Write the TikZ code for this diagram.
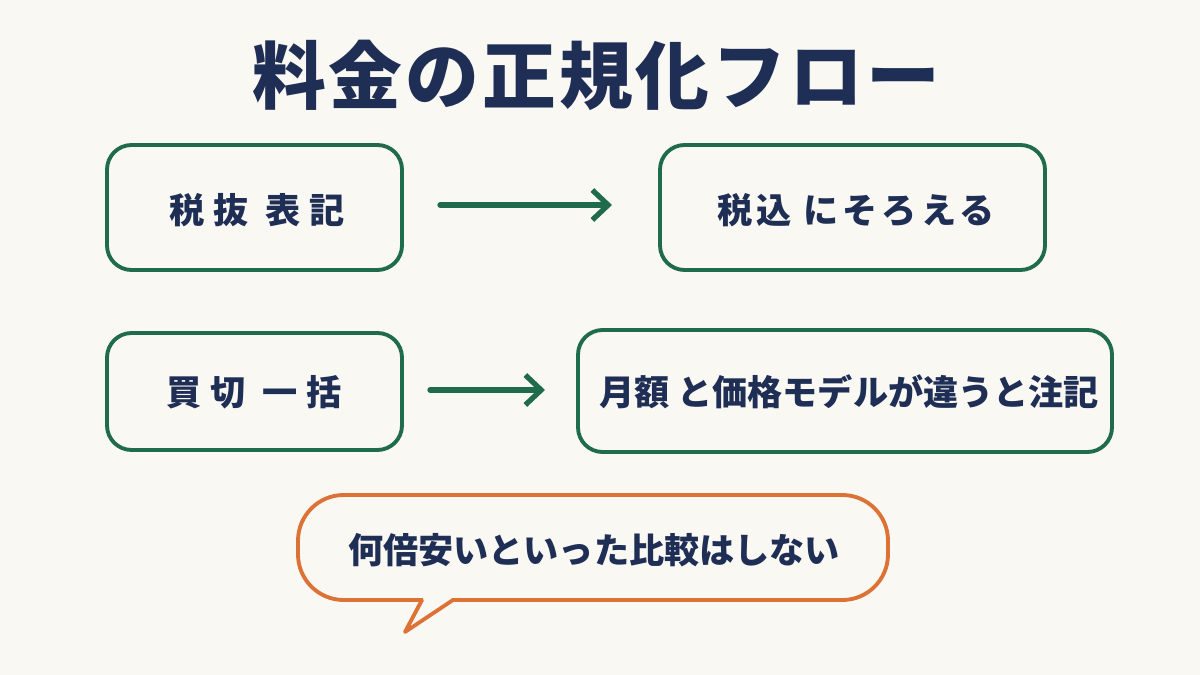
\documentclass[tikz,border=0pt]{standalone}
\usepackage{fontspec}
\usetikzlibrary{arrows.meta}
\newfontfamily\cjk{Noto Sans CJK JP}
\definecolor{bg}{HTML}{FAF8F3}
\definecolor{grn}{HTML}{1F6B4C}
\definecolor{navy}{HTML}{1F2E55}
\definecolor{org}{HTML}{DD7236}
\begin{document}
\begin{tikzpicture}[x=0.02cm,y=-0.02cm,
  box/.style={draw=grn,line width=2.2pt,rounded corners=14pt},
  lbl/.style={text=navy,font=\cjk\bfseries\fontsize{20}{22}\selectfont},
  arr/.style={draw=grn,line width=3pt,-{Straight Barb[length=9pt,width=17pt]},line cap=round}]
\fill[bg] (0,0) rectangle (1200,675);
\useasboundingbox (0,0) rectangle (1200,675);
\node[text=navy,font=\cjk\bfseries\fontsize{42}{46}\selectfont\addfontfeature{LetterSpace=4}] (t) at (596,75) {料金の正規化フロー};
\draw[box] (107,145) rectangle (402,270); \node[lbl] (a) at (257,210) {\addfontfeature{LetterSpace=25}税抜 表記};
\draw[box] (660,145) rectangle (1045,270); \node[lbl] (b) at (856,210) {\addfontfeature{LetterSpace=12}税込 にそろえる};
\draw[box] (107,333) rectangle (402,450); \node[lbl] (c) at (254,392) {\addfontfeature{LetterSpace=25}買切 一括};
\draw[box] (578,330) rectangle (1112,452); \node[lbl] (d) at (849,392) {月額 と価格モデルが違うと注記};
\coordinate (a1) at (440,205); \coordinate (b1) at (612,205);
\coordinate (c1) at (430,390); \coordinate (d1) at (545,390);
\draw[arr] (a1) -- (b1);
\draw[arr] (c1) -- (d1);
\draw[draw=org,line width=2.2pt,rounded corners=26pt,fill=bg]
  (298,495) rectangle (888,600);
\fill[bg] (423,595) rectangle (452,605);
\draw[draw=org,line width=2.2pt,line join=round,line cap=round]
  (422,600) -- (405,632) -- (453,600);
\node[lbl] (e) at (594,550) {何倍安いといった比較はしない};
\end{tikzpicture}
\end{document}
